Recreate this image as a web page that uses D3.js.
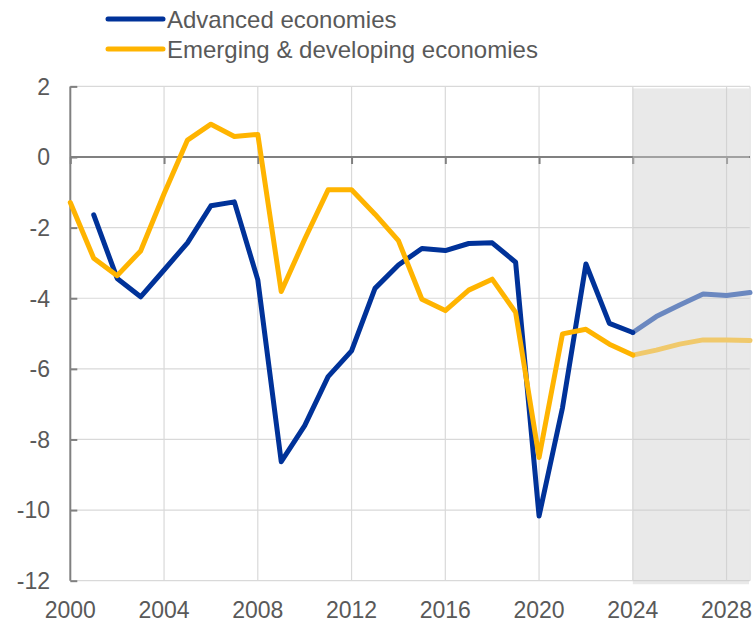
<!DOCTYPE html>
<html>
<head>
<meta charset="utf-8">
<script src="https://cdn.jsdelivr.net/npm/d3@7/dist/d3.min.js"></script>
<style>
  html, body { margin: 0; padding: 0; background: #fff; }
  svg { display: block; font-family: "Liberation Sans", Arial, sans-serif; }
</style>
</head>
<body>
<svg id="chart" width="755" height="619"></svg>
<script>
// Government budget balance, % of GDP
const years = [2000, 2001, 2002, 2003, 2004, 2005, 2006, 2007, 2008, 2009,
  2010, 2011, 2012, 2013, 2014, 2015, 2016, 2017, 2018, 2019,
  2020, 2021, 2022, 2023, 2024, 2025, 2026, 2027, 2028, 2029];

const advanced = [null, -1.64, -3.44, -3.96, -3.20, -2.43, -1.38, -1.27, -3.48, -8.63,
  -7.61, -6.22, -5.49, -3.72, -3.06, -2.59, -2.65, -2.45, -2.43, -2.98,
  -10.17, -7.10, -3.03, -4.71, -4.97, -4.52, -4.19, -3.88, -3.92, -3.84];

const emerging = [-1.29, -2.87, -3.36, -2.66, -1.04, 0.48, 0.93, 0.58, 0.64, -3.81,
  -2.33, -0.93, -0.93, -1.62, -2.37, -4.03, -4.35, -3.77, -3.46, -4.40,
  -8.51, -5.01, -4.88, -5.30, -5.61, -5.47, -5.30, -5.18, -5.18, -5.20];

const seriesNames = ["Advanced economies", "Emerging & developing economies"];
const xTicks = [2000, 2004, 2008, 2012, 2016, 2020, 2024, 2028];
const yTicks = [2, 0, -2, -4, -6, -8, -10, -12];
const projectionStart = 2024;
const projectionEnd = 2029;

const solidColors = ["#003299", "#ffb400"];
const projColors = ["#6b88c0", "#f0c96c"];

const svg = d3.select("#chart");
const x = d3.scaleLinear().domain([2000, 2029]).range([70.3, 750]);
const y = d3.scaleLinear().domain([-12, 2]).range([580.7, 86.4]);

const textColor = "#595959";
const gridColor = "#d9d9d9";
const axisColor = "#808080";

// gridlines
const grid = svg.append("g");
grid.selectAll("line.h").data(yTicks.filter(d => d !== 0)).join("line")
  .attr("x1", x(2000)).attr("x2", x(2029))
  .attr("y1", d => y(d)).attr("y2", d => y(d))
  .attr("stroke", gridColor).attr("stroke-width", 1.2);
grid.selectAll("line.v").data(xTicks.filter(d => d !== 2000).concat([2029])).join("line")
  .attr("x1", d => x(d)).attr("x2", d => x(d))
  .attr("y1", y(2)).attr("y2", y(-12))
  .attr("stroke", gridColor).attr("stroke-width", 1.2);

// zero line with year ticks hanging below it
const xAxis = d3.axisBottom(x).tickValues(xTicks).tickSize(7).tickFormat("");
const xg = svg.append("g").attr("transform", `translate(0,${y(0)})`).call(xAxis);
xg.select(".domain").attr("stroke", axisColor).attr("stroke-width", 2)
  .attr("d", `M${x(2000)},0H${x(2029)}`);
xg.selectAll(".tick line").attr("stroke", axisColor).attr("stroke-width", 2);

// vertical axis with inward ticks
const yAxis = d3.axisRight(y).tickValues(yTicks).tickSize(7).tickFormat("");
const yg = svg.append("g").attr("transform", `translate(${x(2000)},0)`).call(yAxis);
yg.select(".domain").attr("stroke", axisColor).attr("stroke-width", 2)
  .attr("d", `M0,${y(2)}V${y(-12)}`);
yg.selectAll(".tick line").attr("stroke", axisColor).attr("stroke-width", 2);

// projection shading
svg.append("rect")
  .attr("x", x(projectionStart))
  .attr("y", y(2) + 2)
  .attr("width", x(projectionEnd) - x(projectionStart) - 1)
  .attr("height", y(-12) - y(2) + 1.5)
  .attr("fill", "rgb(203,203,203)")
  .attr("fill-opacity", 0.43);

// tick labels
svg.append("g").selectAll("text").data(yTicks).join("text")
  .attr("x", 50).attr("y", d => y(d)).attr("dy", "0.36em")
  .attr("text-anchor", "end").attr("font-size", 23).attr("fill", textColor)
  .text(d => d);
svg.append("g").selectAll("text").data(xTicks).join("text")
  .attr("x", d => x(d)).attr("y", 618)
  .attr("text-anchor", "middle").attr("font-size", 23).attr("fill", textColor)
  .text(d => d);

// series lines: actuals solid, projections lighter
const line = d3.line()
  .defined(d => d[1] !== null)
  .x(d => x(d[0])).y(d => y(d[1]));

[advanced, emerging].forEach((vals, i) => {
  const pts = years.map((yr, j) => [yr, vals[j]]);
  const hist = pts.filter(p => p[0] <= projectionStart);
  const proj = pts.filter(p => p[0] >= projectionStart);
  svg.append("path").datum(proj).attr("d", line)
    .attr("fill", "none").attr("stroke", projColors[i]).attr("stroke-width", 5)
    .attr("stroke-linejoin", "round").attr("stroke-linecap", "round");
  svg.append("path").datum(hist).attr("d", line)
    .attr("fill", "none").attr("stroke", solidColors[i]).attr("stroke-width", 5)
    .attr("stroke-linejoin", "round").attr("stroke-linecap", "round");
});

// legend
const legend = svg.append("g");
seriesNames.forEach((name, i) => {
  const ly = 19 + i * 30;
  legend.append("line")
    .attr("x1", 108).attr("x2", 163).attr("y1", ly).attr("y2", ly)
    .attr("stroke", solidColors[i]).attr("stroke-width", 5).attr("stroke-linecap", "round");
  legend.append("text")
    .attr("x", 167).attr("y", ly).attr("dy", "0.36em")
    .attr("font-size", 24).attr("fill", textColor)
    .text(name);
});
</script>
</body>
</html>
